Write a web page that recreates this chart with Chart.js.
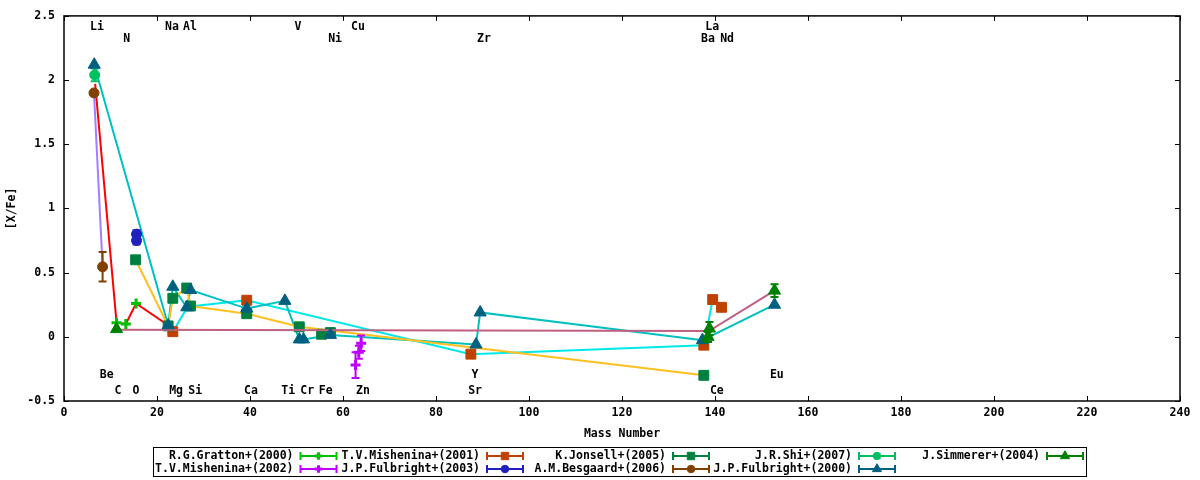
<!DOCTYPE html>
<html><head><meta charset="utf-8">
<script src="https://cdn.jsdelivr.net/npm/chart.js@4.4.1/dist/chart.umd.min.js"></script>
<style>html,body{margin:0;padding:0;background:#fff}canvas{display:block}</style>
</head><body>
<canvas id="c" width="1200" height="480"></canvas>
<script>
// ---------- axis ticks ----------
const xTickValues = [0,20,40,60,80,100,120,140,160,180,200,220,240];
const xTickLabels = ['0','20','40','60','80','100','120','140','160','180','200','220','240'];
const yTickValues = [-0.5,0,0.5,1,1.5,2,2.5];
const yTickLabels = ['-0.5','0','0.5','1','1.5','2','2.5'];
const xTitle = 'Mass Number';
const yTitle = '[X/Fe]';

// ---------- series names (legend order) ----------
const seriesNames = ['R.G.Gratton+(2000)','T.V.Mishenina+(2001)','K.Jonsell+(2005)','J.R.Shi+(2007)','J.Simmerer+(2004)',
                     'T.V.Mishenina+(2002)','J.P.Fulbright+(2003)','A.M.Besgaard+(2006)','J.P.Fulbright+(2000)'];

// ---------- observed points ----------
const grattonX = [11.3, 13.3, 15.5];
const grattonY = [0.11, 0.10, 0.26];
const grattonErr = [0, 0, 0];

const mish01X = [23.4, 39.3, 87.5, 137.6, 139.5, 141.4];
const mish01Y = [0.04, 0.285, -0.135, -0.065, 0.29, 0.23];
const mish01Err = [0, 0, 0, 0, 0, 0];

const jonsellX = [15.4, 22.4, 23.4, 26.4, 27.2, 39.3, 50.6, 55.4, 57.3, 137.6];
const jonsellY = [0.60, 0.085, 0.30, 0.38, 0.24, 0.18, 0.078, 0.02, 0.033, -0.30];
const jonsellErr = [0, 0, 0, 0, 0, 0, 0, 0, 0, 0];

const shiX = [6.6];
const shiY = [2.04];
const shiErr = [0.05];

const simmererX = [11.3, 138.5, 138.8, 152.8];
const simmererY = [0.06, 0.0, 0.065, 0.36];
const simmererErr = [0, 0.04, 0.05, 0.05];

const mish02X = [63.9, 63.4, 62.7];
const mish02Y = [-0.05, -0.12, -0.22];
const mish02Err = [0.06, 0.05, 0.10];

const fulb03X = [15.6, 15.6];
const fulb03Y = [0.80, 0.75];
const fulb03Err = [0.03, 0.03];

const besgaardX = [6.45, 8.3];
const besgaardY = [1.90, 0.545];
const besgaardErr = [0, 0.115];

const fulb00X = [6.5, 22.4, 23.4, 26.4, 27.2, 39.3, 47.5, 50.6, 51.5, 57.3, 88.6, 89.5, 137.3, 152.8];
const fulb00Y = [2.12, 0.09, 0.39, 0.23, 0.365, 0.22, 0.28, -0.02, -0.02, 0.015, -0.06, 0.19, -0.026, 0.25];
const fulb00Err = [0,0,0,0,0,0,0,0,0,0,0,0,0,0];

// ---------- connecting lines ----------
const redLineX = [6.7, 11.3, 13.3, 15.5, 22.4];
const redLineY = [1.97, 0.11, 0.10, 0.26, 0.09];
const purpleLineX = [6.45, 8.3];
const purpleLineY = [1.90, 0.545];
const orangeLineX = [15.4, 22.4, 23.4, 26.4, 27.2, 39.3, 50.6, 137.6];
const orangeLineY = [0.60, 0.085, 0.30, 0.38, 0.24, 0.18, 0.078, -0.30];
const tealLineX = [6.5, 22.4, 23.4, 26.4, 27.2, 39.3, 47.5, 50.6, 51.5, 57.3, 88.6, 89.5, 137.3, 152.8];
const tealLineY = [2.12, 0.09, 0.39, 0.23, 0.365, 0.22, 0.28, -0.02, -0.02, 0.015, -0.06, 0.19, -0.026, 0.25];
const cyanLineX = [23.4, 26.6, 39.3, 87.5, 137.6, 139.5];
const cyanLineY = [0.04, 0.235, 0.285, -0.135, -0.065, 0.29];
const pinkLineX = [11.3, 138.7, 152.8];
const pinkLineY = [0.055, 0.045, 0.36];

// ---------- element labels ----------
const elemNames = ['Li','Na','Al','V','Cu','La','N','Ni','Zr','Ba','Nd','Be','Y','Eu','C','O','Mg','Si','Ca','Ti','Cr','Fe','Zn','Sr','Ce'];
const elemX = [7.1,23.2,27.1,50.3,63.2,139.4,13.5,58.3,90.3,138.5,142.6,9.2,88.4,153.3,11.6,15.5,24.1,28.2,40.2,48.2,52.3,56.3,64.3,88.4,140.4];
const elemY = [2.41,2.41,2.41,2.41,2.41,2.41,2.32,2.32,2.32,2.32,2.32,-0.30,-0.30,-0.30,-0.42,-0.42,-0.42,-0.42,-0.42,-0.42,-0.42,-0.42,-0.42,-0.42,-0.42];

// ---------- build ----------
const FONT_FAMILY = '"DejaVu Sans Mono", "Liberation Mono", monospace';
const FONT = 'bold 11.5px ' + FONT_FAMILY;
function pts(xs, ys){ return xs.map((x,i)=>({x:x, y:ys[i]})); }

const pointSpecs = [
  {name: seriesNames[0], xs: grattonX, ys: grattonY, err: grattonErr, color:'#00c000', style:'cross', r:5, bw:3, order:8},
  {name: seriesNames[1], xs: mish01X, ys: mish01Y, err: mish01Err, color:'#c04000', style:'rect', r:7, bw:1, order:10},
  {name: seriesNames[2], xs: jonsellX, ys: jonsellY, err: jonsellErr, color:'#008040', style:'rect', r:7, bw:1, order:9},
  {name: seriesNames[3], xs: shiX, ys: shiY, err: shiErr, color:'#00c060', style:'circle', r:5, bw:1, order:7},
  {name: seriesNames[4], xs: simmererX, ys: simmererY, err: simmererErr, color:'#008000', style:'triangle', r:7, bw:1, order:2},
  {name: seriesNames[5], xs: mish02X, ys: mish02Y, err: mish02Err, color:'#c000ff', style:'cross', r:5, bw:3, order:5},
  {name: seriesNames[6], xs: fulb03X, ys: fulb03Y, err: fulb03Err, color:'#2020c0', style:'circle', r:5, bw:1, order:6},
  {name: seriesNames[7], xs: besgaardX, ys: besgaardY, err: besgaardErr, color:'#804000', style:'circle', r:5, bw:1, order:4},
  {name: seriesNames[8], xs: fulb00X, ys: fulb00Y, err: fulb00Err, color:'#006080', style:'triangle', r:7, bw:1, order:3}
];
const lineSpecs = [
  {xs: redLineX, ys: redLineY, color:'#ff0000', order:20},
  {xs: purpleLineX, ys: purpleLineY, color:'#a080ff', order:20},
  {xs: orangeLineX, ys: orangeLineY, color:'#ffc020', order:20},
  {xs: tealLineX, ys: tealLineY, color:'#00c0c0', order:20},
  {xs: cyanLineX, ys: cyanLineY, color:'#00e8e8', order:20},
  {xs: pinkLineX, ys: pinkLineY, color:'#c06080', order:8.5}
];

const datasets = [];
lineSpecs.forEach(s => datasets.push({
  data: pts(s.xs, s.ys), showLine:true, borderColor:s.color, backgroundColor:s.color,
  borderWidth:2, pointRadius:0, pointHoverRadius:0, tension:0, fill:false, order:s.order, clip:false
}));
pointSpecs.forEach(s => datasets.push({
  label: s.name, data: pts(s.xs, s.ys), errors: s.err, showLine:false,
  pointStyle: s.style, pointRadius: s.r, pointHoverRadius: s.r, pointBorderWidth: s.bw,
  borderColor: s.color, backgroundColor: s.color, order: s.order, clip:false
}));

const decor = {
  id: 'decor',
  beforeDraw(chart){
    const ctx = chart.ctx;
    ctx.save(); ctx.fillStyle = '#fff'; ctx.fillRect(0,0,chart.width,chart.height); ctx.restore();
  },
  afterDatasetDraw(chart, args){
    const ds = chart.data.datasets[args.index];
    if (!ds.errors) return;
    const xs = chart.scales.x, ys = chart.scales.y, ctx = chart.ctx;
    ctx.save();
    ctx.strokeStyle = ds.borderColor; ctx.lineWidth = 2;
    ds.data.forEach((p,i) => {
      const e = ds.errors[i];
      if (!e) return;
      const px = xs.getPixelForValue(p.x);
      const y1 = ys.getPixelForValue(p.y + e), y2 = ys.getPixelForValue(p.y - e);
      ctx.beginPath();
      ctx.moveTo(px, y1); ctx.lineTo(px, y2);
      ctx.moveTo(px-4, y1); ctx.lineTo(px+4, y1);
      ctx.moveTo(px-4, y2); ctx.lineTo(px+4, y2);
      ctx.stroke();
    });
    ctx.restore();
  },
  afterDatasetsDraw(chart){
    const ctx = chart.ctx, xs = chart.scales.x, ys = chart.scales.y, a = chart.chartArea;
    ctx.save();
    // element labels
    ctx.font = FONT; ctx.fillStyle = '#000'; ctx.textAlign = 'center'; ctx.textBaseline = 'middle';
    elemNames.forEach((n,i) => ctx.fillText(n, xs.getPixelForValue(elemX[i]), ys.getPixelForValue(elemY[i])));
    // frame
    ctx.strokeStyle = '#000'; ctx.lineWidth = 1.5;
    ctx.strokeRect(a.left, a.top, a.right - a.left, a.bottom - a.top);
    // inward ticks, mirrored
    ctx.lineWidth = 1;
    ctx.beginPath();
    xs.ticks.forEach(t => {
      const px = Math.round(xs.getPixelForValue(t.value)) + 0.5;
      ctx.moveTo(px, a.bottom); ctx.lineTo(px, a.bottom - 5);
      ctx.moveTo(px, a.top); ctx.lineTo(px, a.top + 5);
    });
    ys.ticks.forEach(t => {
      const py = Math.round(ys.getPixelForValue(t.value)) + 0.5;
      ctx.moveTo(a.left, py); ctx.lineTo(a.left + 5, py);
      ctx.moveTo(a.right, py); ctx.lineTo(a.right - 5, py);
    });
    ctx.stroke();
    ctx.restore();
  },
  afterDraw(chart){
    const ctx = chart.ctx;
    ctx.save();
    // legend box
    ctx.strokeStyle = '#000'; ctx.lineWidth = 1;
    ctx.strokeRect(153.5, 447.5, 933, 29);
    const colEnds = [293.5, 480, 666, 852, 1040];
    const rowY = [456, 469];
    ctx.font = FONT; ctx.textAlign = 'right'; ctx.textBaseline = 'middle';
    pointSpecs.forEach((s,i) => {
      const col = i % 5, row = Math.floor(i / 5);
      const tx = colEnds[col], ty = rowY[row];
      ctx.fillStyle = '#000';
      ctx.fillText(s.name, tx, ty);
      const x0 = tx + 7, x1 = tx + 43;
      ctx.strokeStyle = s.color; ctx.fillStyle = s.color; ctx.lineWidth = 2;
      ctx.beginPath();
      ctx.moveTo(x0, ty); ctx.lineTo(x1, ty);
      ctx.moveTo(x0, ty-4); ctx.lineTo(x0, ty+4);
      ctx.moveTo(x1, ty-4); ctx.lineTo(x1, ty+4);
      ctx.stroke();
      ctx.lineWidth = s.bw;
      Chart.helpers.drawPoint(ctx, {pointStyle: s.style, radius: s.r * 0.75, borderWidth: s.bw, rotation: 0}, (x0+x1)/2, ty);
    });
    ctx.restore();
  }
};

new Chart(document.getElementById('c'), {
  type: 'scatter',
  data: { datasets: datasets },
  plugins: [decor],
  options: {
    responsive: false, devicePixelRatio: 1, animation: false,
    layout: { padding: { top: 15, right: 20, left: 0, bottom: 0 } },
    plugins: { legend: { display: false }, tooltip: { enabled: false } },
    events: [],
    scales: {
      x: {
        type: 'linear', min: 0, max: 240,
        afterBuildTicks: s => { s.ticks = xTickValues.map(v => ({value: v})); },
        afterFit: s => { s.height = 79; },
        grid: { display: false, drawTicks: false },
        border: { display: false },
        ticks: { color: '#000', padding: 5, maxRotation: 0, autoSkip: false,
                 font: { family: FONT_FAMILY, size: 11.5, weight: 'bold' },
                 callback: (v, i) => xTickLabels[i] },
        title: { display: true, text: xTitle, color: '#000', padding: { top: 0, bottom: 39 },
                 font: { family: FONT_FAMILY, size: 11.5, weight: 'bold' } }
      },
      y: {
        type: 'linear', min: -0.5, max: 2.5,
        afterBuildTicks: s => { s.ticks = yTickValues.map(v => ({value: v})); },
        afterFit: s => { s.width = 64; },
        grid: { display: false, drawTicks: false },
        border: { display: false },
        ticks: { color: '#000', padding: 9, autoSkip: false,
                 font: { family: FONT_FAMILY, size: 11.5, weight: 'bold' },
                 callback: (v, i) => yTickLabels[i] },
        title: { display: true, text: yTitle, color: '#000', padding: { top: 5, bottom: 0 },
                 font: { family: FONT_FAMILY, size: 11.5, weight: 'bold' } }
      }
    }
  }
});
</script>
</body></html>
